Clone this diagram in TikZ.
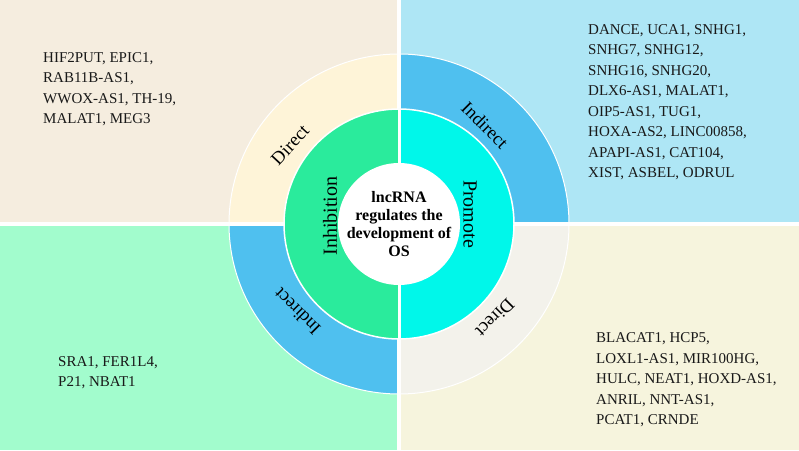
\documentclass[tikz,border=0pt]{standalone}
\usepackage{fontspec}
\setmainfont{Liberation Serif}
\definecolor{bgTL}{HTML}{F5EDDF}
\definecolor{bgTR}{HTML}{AEE6F5}
\definecolor{bgBL}{HTML}{A2FCCD}
\definecolor{bgBR}{HTML}{F6F4DD}
\definecolor{ringTL}{HTML}{FEF4D8}
\definecolor{ringBlue}{HTML}{4FC0EF}
\definecolor{ringBR}{HTML}{F3F2EB}
\definecolor{inhGreen}{HTML}{2AEB9C}
\definecolor{proCyan}{HTML}{00F7EA}
\tikzset{
  listtext/.style={anchor=west,align=left,inner sep=0pt,font=\fontsize{15}{20.5}\selectfont,text=black!90},
  outerlabel/.style={inner sep=0pt,font=\fontsize{18.5}{20}\selectfont},
  midlabel/.style={inner sep=0pt,font=\fontsize{20}{22}\selectfont},
  sep/.style={white,line width=4pt},
}
\begin{document}
\begin{tikzpicture}[x=1pt,y=1pt]
\useasboundingbox (0,0) rectangle (799,450);
\coordinate (C) at (399,226);
% backgrounds
\fill[bgTL] (0,226) rectangle (399,450);
\fill[bgTR] (399,226) rectangle (799,450);
\fill[bgBL] (0,0) rectangle (399,226);
\fill[bgBR] (399,0) rectangle (799,226);
% outer ring sectors
\fill[ringBlue] (C) -- ++(0:170pt) arc (0:90:170pt) -- cycle;
\fill[ringTL] (C) -- ++(90:170pt) arc (90:180:170pt) -- cycle;
\fill[ringBlue] (C) -- ++(180:170pt) arc (180:270:170pt) -- cycle;
\fill[ringBR] (C) -- ++(270:170pt) arc (270:360:170pt) -- cycle;
\draw[white,line width=1pt] (C) circle (170pt);
% separating lines
\draw[sep] (0,226) -- (799,226);
\draw[sep] (399,0) -- (399,450);
% middle ring
\fill[inhGreen] (C) -- ++(90:115pt) arc (90:270:115pt) -- cycle;
\fill[proCyan] (C) -- ++(270:115pt) arc (270:450:115pt) -- cycle;
\draw[white,line width=1.5pt] (C) circle (115pt);
\draw[white,line width=3pt] ([yshift=-115pt]C) -- ([yshift=115pt]C);
% inner circle
\fill[white] (C) circle (61pt);
\node[inner sep=0pt,align=center,font=\bfseries\fontsize{16}{18.3}\selectfont] (center) at (C) {lncRNA\\regulates the\\development of\\OS};
% ring labels
\node[midlabel,rotate=90] (inh) at (330,234) {Inhibition};
\node[midlabel,rotate=-90] (pro) at (470,236) {Promote};
\node[outerlabel,rotate=47] (dirTL) at (290,305) {Direct};
\node[outerlabel,rotate=-45] (indTR) at (485,325) {Indirect};
\node[outerlabel,rotate=135] (indBL) at (297,138) {Indirect};
\node[outerlabel,rotate=225] (dirBR) at (495,132) {Direct};
% lists
\node[listtext] (listTL) at (43,361) {HIF2PUT, EPIC1,\\RAB11B-AS1,\\WWOX-AS1, TH-19,\\MALAT1, MEG3};
\node[listtext] (listTR) at (588,348) {DANCE, UCA1, SNHG1,\\SNHG7, SNHG12,\\SNHG16, SNHG20,\\DLX6-AS1, MALAT1,\\OIP5-AS1, TUG1,\\HOXA-AS2, LINC00858,\\APAPI-AS1, CAT104,\\XIST, ASBEL, ODRUL};
\node[listtext] (listBL) at (58,77.5) {SRA1, FER1L4,\\P21, NBAT1};
\node[listtext] (listBR) at (596,70) {BLACAT1, HCP5,\\LOXL1-AS1, MIR100HG,\\HULC, NEAT1, HOXD-AS1,\\ANRIL, NNT-AS1,\\PCAT1, CRNDE};
\end{tikzpicture}
\end{document}
